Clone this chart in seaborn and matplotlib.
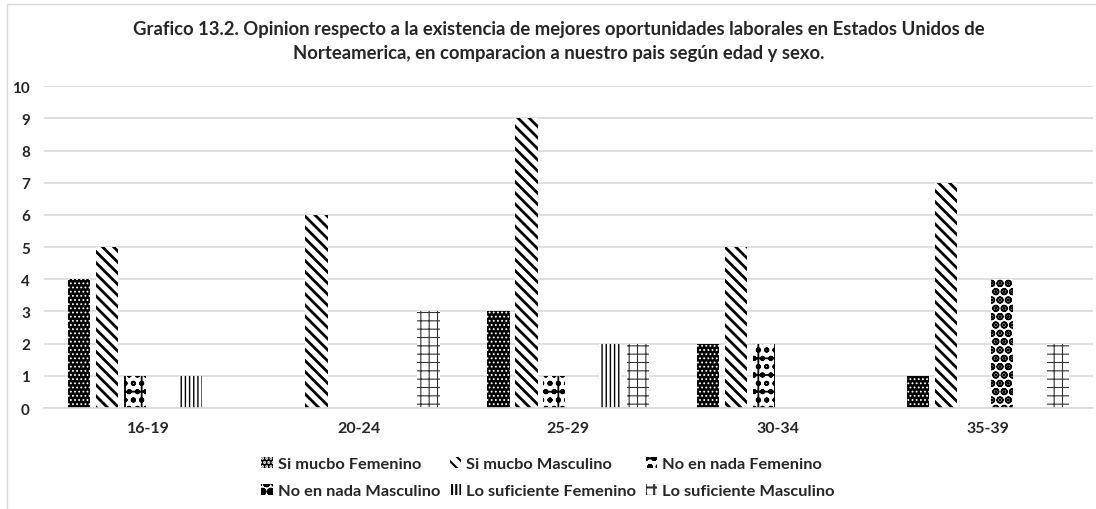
import pandas as pd
import matplotlib.pyplot as plt
import matplotlib.patches as mpatches
from matplotlib.lines import Line2D
import seaborn as sns

edades = ["16-19", "20-24", "25-29", "30-34", "35-39"]
series = ["Si mucbo Femenino", "Si mucbo Masculino", "No en nada Femenino",
          "No en nada Masculino", "Lo suficiente Femenino", "Lo suficiente Masculino"]
si_fem = [4, 0, 3, 2, 1]
si_mas = [5, 6, 9, 5, 7]
no_fem = [1, 0, 1, 2, 0]
no_mas = [0, 0, 0, 0, 4]
lo_fem = [1, 0, 2, 0, 0]
lo_mas = [0, 3, 2, 0, 2]
titulo = ("Grafico 13.2. Opinion respecto a la existencia de mejores oportunidades laborales en Estados Unidos de\n"
          "Norteamerica, en comparacion a nuestro pais según edad y sexo.")

valores = [si_fem, si_mas, no_fem, no_mas, lo_fem, lo_mas]
df = pd.DataFrame([(e, s, v) for s, vals in zip(series, valores) for e, v in zip(edades, vals)],
                  columns=["edad", "serie", "n"])

# (facecolor, hatch colour, hatch, hatch linewidth)
estilos = [
    ("black", "white", "....", 0.8),
    ("white", "black", "\\\\\\", 2.0),
    ("white", "black", "+oo", 1.3),
    ("white", "black", "OO..", 1.0),
    ("white", "black", "||||", 1.0),
    ("white", "#333333", "++", 0.8),
]

sns.set_style("white")
plt.rcParams["font.family"] = ["Lato", "DejaVu Sans"]
plt.rcParams["hatch.linewidth"] = 1.5

fig = plt.figure(figsize=(10.96, 5.10), dpi=100)
ax = fig.add_axes([0.040, 0.198, 0.957, 0.631])

sns.barplot(data=df, x="edad", y="n", hue="serie", order=edades, hue_order=series,
            width=0.8, gap=0.2, ax=ax, legend=False)

for cont, (fc, hc, h, lw) in zip(ax.containers, estilos):
    for p in cont.patches:
        p.set_facecolor(fc)
        p.set_edgecolor(hc)
        p.set_hatch(h)
        p.set_linewidth(0)
        if hasattr(p, "set_hatch_linewidth"):
            p.set_hatch_linewidth(lw)

ax.set_ylim(0, 10)
ax.set_yticks(range(0, 11))
ax.set_xlim(-0.5, 4.5)
ax.yaxis.grid(True, color="#d9d9d9", linewidth=1.2)
ax.set_axisbelow(True)
for s in ["top", "right", "left"]:
    ax.spines[s].set_visible(False)
ax.spines["bottom"].set_color("#d9d9d9")
ax.spines["bottom"].set_linewidth(1.2)
ax.tick_params(axis="x", length=0, labelsize=11.5, colors="#262626", pad=9)
ax.tick_params(axis="y", length=0, labelsize=11, colors="#262626", pad=10)
for lab in ax.get_xticklabels() + ax.get_yticklabels():
    lab.set_fontweight("bold")
ax.set_xlabel("")
ax.set_ylabel("")

fig.suptitle(titulo, x=0.51, y=0.958, fontsize=13.3, fontweight="bold",
             color="#262626", linespacing=1.45)

handles = []
for (fc, hc, h, lw), s in zip(estilos, series):
    hp = mpatches.Patch(facecolor=fc, edgecolor=hc, hatch=h, linewidth=0, label=s)
    handles.append(hp)
# matplotlib fills legend columns first, so reorder to read row by row
orden = [0, 3, 1, 4, 2, 5]
fig.legend(handles=[handles[i] for i in orden], loc="center", bbox_to_anchor=(0.5, 0.062), ncol=3,
           frameon=False, handlelength=0.7, handleheight=0.7,
           handletextpad=0.3, columnspacing=0.6, labelspacing=0.75,
           prop={"weight": "bold", "size": 11.8})

# chart border
fig.add_artist(Line2D([7 / 1096, 7 / 1096], [0, 1 - 5 / 510], transform=fig.transFigure,
                      color="#d9d9d9", linewidth=1))
fig.add_artist(Line2D([7 / 1096, 1], [1 - 5 / 510, 1 - 5 / 510], transform=fig.transFigure,
                      color="#d9d9d9", linewidth=1))

plt.savefig("out.png", dpi=100)
